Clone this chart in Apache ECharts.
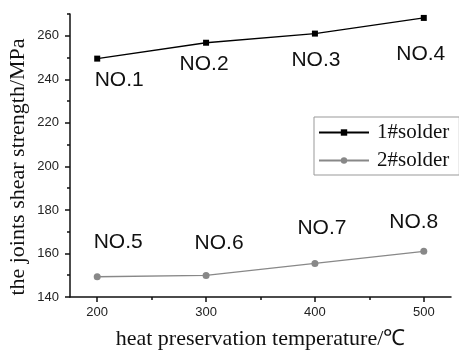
<!DOCTYPE html>
<html><head><meta charset="utf-8">
<script src="https://cdn.jsdelivr.net/npm/echarts@6/dist/echarts.min.js"></script>
<style>html,body{margin:0;padding:0;background:#fff}#c{width:459px;height:352px}</style>
</head><body><div id="c"></div>
<script>
var temperatures = [200, 300, 400, 500];
var solder1 = [249.5, 256.8, 261.0, 268.2];
var solder2 = [149.3, 149.9, 155.4, 161.0];
var labels1 = ['NO.1', 'NO.2', 'NO.3', 'NO.4'];
var labels2 = ['NO.5', 'NO.6', 'NO.7', 'NO.8'];
var xTicks = [200, 300, 400, 500];
var xMinorTicks = [250, 350, 450];
var yTicks = [140, 160, 180, 200, 220, 240, 260];
var yMinorTicks = [150, 170, 190, 210, 230, 250, 270];
var seriesNames = ['1#solder', '2#solder'];
var xTitle = 'heat preservation temperature/\u2103';
var yTitle = 'the joints shear strength/MPa';

var off1 = [[22, 22], [-2, 21], [1, 27], [-3, 36]];
var off2 = [[21, -35], [13, -32], [7, -35], [-10, -29]];

function build(vals, labs, offs) {
  return vals.map(function (v, i) {
    return { value: [temperatures[i], v],
      label: { show: true, position: 'inside', offset: offs[i], formatter: labs[i] } };
  });
}

var serif = 'Liberation Serif, Times New Roman, serif';
var sans = 'Liberation Sans, Arial, sans-serif';
var chart = echarts.init(document.getElementById('c'), null, { renderer: 'canvas' });
var axisLbl = { fontFamily: sans, fontSize: 13, color: '#222' };
chart.setOption({
  animation: false,
  backgroundColor: '#fff',
  grid: { left: 70, right: 8, top: 14, bottom: 55, containLabel: false, outerBoundsMode: 'none' },
  legend: {
    left: 314, top: 117, orient: 'vertical',
    backgroundColor: '#fff',
    borderColor: '#999', borderWidth: 1, padding: [5, 10, 4, 4], itemGap: 7,
    itemWidth: 50, itemHeight: 8,
    textStyle: { fontFamily: serif, fontSize: 21, color: '#111', padding: [0, 0, 0, 3] },
    data: seriesNames
  },
  graphic: [{
    type: 'text', x: 18, y: 167, rotation: Math.PI / 2,
    style: { text: yTitle, font: '22px ' + serif, fill: '#111', align: 'center', verticalAlign: 'middle' }
  }],
  xAxis: [{
    type: 'value', min: 175, max: 525,
    axisLine: { show: true, lineStyle: { color: '#111', width: 1.5 } },
    axisTick: { show: true, inside: false, length: 5, customValues: xTicks, lineStyle: { color: '#111', width: 1.5 } },
    axisLabel: Object.assign({ customValues: xTicks, margin: 9 }, axisLbl),
    splitLine: { show: false },
    name: xTitle, nameLocation: 'middle', nameGap: 31,
    nameTextStyle: { fontFamily: serif, fontSize: 22, color: '#111' }
  }, {
    type: 'value', min: 175, max: 525, position: 'bottom',
    axisLine: { show: false },
    axisTick: { show: true, length: 3, customValues: xMinorTicks, lineStyle: { color: '#111', width: 1.5 } },
    axisLabel: { show: false }, splitLine: { show: false }
  }],
  yAxis: [{
    type: 'value', min: 140, max: 270,
    axisLine: { show: true, lineStyle: { color: '#111', width: 1.5 } },
    axisTick: { show: true, length: 5, customValues: yTicks, lineStyle: { color: '#111', width: 1.5 } },
    axisLabel: Object.assign({ customValues: yTicks, margin: 11 }, axisLbl),
    splitLine: { show: false }
  }, {
    type: 'value', min: 140, max: 270, position: 'left',
    axisLine: { show: false },
    axisTick: { show: true, length: 3, customValues: yMinorTicks, lineStyle: { color: '#111', width: 1.5 } },
    axisLabel: { show: false }, splitLine: { show: false }
  }],
  series: [{
    name: seriesNames[0], type: 'line', xAxisIndex: 0, yAxisIndex: 0,
    symbol: 'rect', symbolSize: 6,
    lineStyle: { color: '#000', width: 1.3 }, itemStyle: { color: '#000' },
    label: { fontFamily: sans, fontSize: 21, color: '#111' },
    data: build(solder1, labels1, off1)
  }, {
    name: seriesNames[1], type: 'line', xAxisIndex: 0, yAxisIndex: 0,
    symbol: 'circle', symbolSize: 7,
    lineStyle: { color: '#888', width: 1.3 }, itemStyle: { color: '#888' },
    label: { fontFamily: sans, fontSize: 21, color: '#111' },
    data: build(solder2, labels2, off2)
  }]
});
</script></body></html>
